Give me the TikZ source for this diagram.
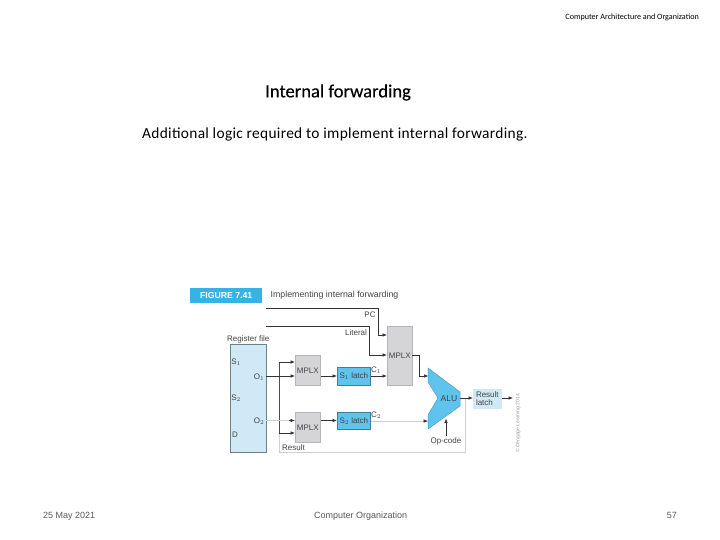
\documentclass[tikz,border=0pt]{standalone}
\usepackage{fontspec}
\setmainfont{Liberation Sans}
\newfontfamily\carl{Carlito}
\usetikzlibrary{arrows.meta}
\definecolor{figblue}{HTML}{35B2E6}
\definecolor{latchblue}{HTML}{5EC4EE}
\definecolor{paleblue}{HTML}{CFE9F7}
\definecolor{boxgray}{HTML}{D5D5D7}
\definecolor{wiregray}{HTML}{CFCFCF}
\definecolor{inkgray}{HTML}{444444}
\tikzset{
  px/.style={x=1pt,y=-1pt},
  blockbox/.style={draw=#1,line width=0.7pt,inner sep=0pt,anchor=north west},
  wire/.style={draw=black!80,line width=0.7pt,-{Latex[length=4.5pt,width=3.6pt]}},
  lightwire/.style={draw=wiregray,line width=0.9pt},
  lbl/.style={font=\fontsize{8}{9}\selectfont,text=inkgray,inner sep=0pt},
  foot/.style={font=\fontsize{9}{10}\selectfont,text=black!65,inner sep=0pt},
}
\begin{document}
\begin{tikzpicture}[px]
\useasboundingbox (0,0) rectangle (720,540);
\fill[white] (0,0) rectangle (720,540);
% slide texts
\node[inner sep=0pt,anchor=east] (hdr) at (699,17) {\carl\fontsize{8.1}{9}\selectfont Computer Architecture and Organization};
\node[inner sep=0pt,anchor=west] (title) at (265,92.5) {\carl\fontsize{18.6}{20}\selectfont\addfontfeature{FakeBold=0.3}Internal forwarding};
\node[inner sep=0pt,anchor=west] (sub) at (142,134) {\carl\fontsize{15.4}{18}\selectfont\addfontfeature{LetterSpace=2}Additional logic required to implement internal forwarding.};
\node[foot,anchor=base west] (date) at (43,518.5) {25 May 2021};
\node[foot,anchor=base west] (org) at (314,518.5) {Computer Organization};
\node[foot,anchor=base east] (page) at (677,518.5) {57};
% figure header
\node[fill=figblue,inner sep=0pt,minimum width=72pt,minimum height=15pt,anchor=north west,text=white,font=\fontsize{8.7}{9}\selectfont\bfseries] (fig) at (190,288) {FIGURE 7.41};
\node[lbl,anchor=west,font=\fontsize{8.8}{9}\selectfont] (figt) at (270.5,295.5) {Implementing internal forwarding};
% blocks
\node[blockbox=black!45!paleblue,fill=paleblue,minimum width=35.5pt,minimum height=108pt] (reg) at (230,344) {};
\node[blockbox=black!15!boxgray,fill=boxgray,minimum width=25pt,minimum height=30pt,lbl] (ma) at (295,355) {MPLX};
\node[blockbox=black!15!boxgray,fill=boxgray,minimum width=25pt,minimum height=30pt,lbl] (mb) at (295,412) {MPLX};
\node[blockbox=black!35!latchblue,fill=latchblue,minimum width=33pt,minimum height=18pt,lbl] (sa) at (337,367) {S$_1$ latch};
\node[blockbox=black!35!latchblue,fill=latchblue,minimum width=33pt,minimum height=17pt,lbl] (sb) at (337,412) {S$_2$ latch};
\node[blockbox=black!15!boxgray,fill=boxgray,minimum width=25pt,minimum height=59pt,lbl] (mc) at (387,326) {MPLX};
\node[blockbox=paleblue,fill=paleblue,minimum width=28pt,minimum height=19pt,lbl,align=left] (res) at (473,389) {Result\\[-0.5pt]latch};
% ALU
\path[fill=latchblue,draw=black!20!latchblue,line width=0.5pt] (428,368) -- (460,392) -- (460,406) -- (428,429) -- (428,415) -- (438,398) -- (428,382) -- cycle;
\node[lbl,font=\fontsize{8.6}{9}\selectfont] (alu) at (449,398.5) {ALU};
% labels
\node[lbl,anchor=west] (rf) at (227,339) {Register file};
\node[lbl] (ls1) at (236,362.5) {S$_1$};
\node[lbl] (ls2) at (236,398) {S$_2$};
\node[lbl] (ld) at (235,435) {D};
\node[lbl] (lo1) at (259,377) {O$_1$};
\node[lbl] (lo2) at (259,421) {O$_2$};
\node[lbl] (lc1) at (376,370) {C$_1$};
\node[lbl] (lc2) at (376,415) {C$_2$};
\node[lbl] (lpc) at (370,315) {PC};
\node[lbl] (llit) at (356,333) {Literal};
\node[lbl,anchor=west] (lres) at (282,447.5) {Result};
\node[lbl] (lop) at (446,441.5) {Op-code};
\node[font=\fontsize{5}{6}\selectfont,text=black!40,inner sep=0pt,rotate=90] (copy) at (518,423.5) {© Cengage Learning 2014};
% named free ends and bends
\coordinate (pcs) at (266,308);
\coordinate (pcb) at (378,308);
\coordinate (pce) at (387,335);
\coordinate (lits) at (266,326);
\coordinate (litb) at (369,326);
\coordinate (lite) at (387,355);
\coordinate (o1) at (265.7,376);
\coordinate (o2) at (265.7,420.5);
\coordinate (busT) at (279,362);
\coordinate (busM) at (279,433);
\coordinate (busB) at (279,452);
\coordinate (retB) at (465,452);
\coordinate (retT) at (465,398);
\coordinate (a1) at (295,362);
\coordinate (a2) at (295,376);
\coordinate (b1) at (295,420.5);
\coordinate (b2) at (295,433);
\coordinate (mcin) at (387,376);
\coordinate (mcout) at (412,355);
\coordinate (mcbend) at (419,355);
\coordinate (aluA) at (419,376);
\coordinate (aluAin) at (428.5,376);
\coordinate (aluB) at (428,421);
\coordinate (aluOut) at (460,398);
\coordinate (opS) at (446,436);
\coordinate (opE) at (446,418.5);
\coordinate (resOut) at (513,398);
\coordinate (bTip) at (289,420.5);
\coordinate (aluTip) at (424,421);
% connectors
\draw[wire] (pcs) -- (pcb) -- (pcb |- pce) -- (pce);
\draw[wire] (lits) -- (litb) -- (litb |- lite) -- (lite);
\draw[lightwire] (busM) -- (busB) -- (retB) -- (retT);
\draw[draw=black!70,line width=0.7pt] (busT) -- (busM);
\draw[wire] (busT) -- (a1);
\draw[wire] (busM) -- (b2);
\draw[wire] (o1) -- (a2);
\draw[lightwire] (o2) -- (b1);
\draw[wire] (bTip) -- (b1);
\draw[wire] (ma.east |- a2) -- (sa.west |- a2);
\draw[wire] (mb.east |- b1) -- (sb.west |- b1);
\draw[wire] (sa.east |- mcin) -- (mcin);
\draw[lightwire] (sb.east |- aluB) -- (aluB);
\draw[wire] (aluTip) -- (aluB);
\draw[wire] (mcout) -- (mcbend) -- (aluA) -- (aluAin);
\draw[wire] (aluOut) -- (res.west |- aluOut);
\draw[wire] (res.east |- resOut) -- (resOut);
\draw[wire] (opS) -- (opE);
\end{tikzpicture}
\end{document}
